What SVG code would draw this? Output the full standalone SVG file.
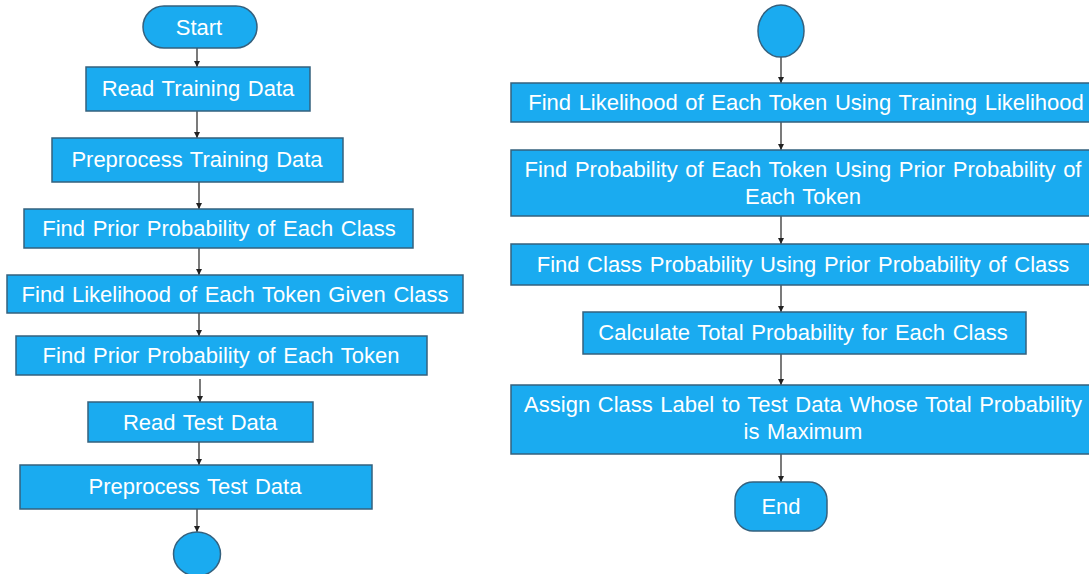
<svg xmlns="http://www.w3.org/2000/svg" width="1089" height="574" viewBox="0 0 1089 574">
<style>
.box{fill:#1aabf0;stroke:#35617e;stroke-width:1.5}
.t{font-family:"Liberation Sans",Arial,sans-serif;font-size:22px;word-spacing:1.5px;fill:#ffffff;text-anchor:middle}
.c{stroke:#333333;stroke-width:1.3;fill:none;marker-end:url(#ah)}
</style>
<defs>
<marker id="ah" viewBox="0 0 10 10" refX="10" refY="5" markerWidth="6" markerHeight="6" markerUnits="userSpaceOnUse" orient="auto">
<path d="M0,0 L10,5 L0,10 z" fill="#222222"/>
</marker>
</defs>
<rect width="1089" height="574" fill="#ffffff"/>
<g id="connectors">
<line class="c" x1="197" y1="48" x2="197" y2="67"/>
<line class="c" x1="197" y1="111" x2="197" y2="138"/>
<line class="c" x1="199" y1="182" x2="199" y2="209"/>
<line class="c" x1="199" y1="248" x2="199" y2="275"/>
<line class="c" x1="199" y1="313" x2="199" y2="336"/>
<line class="c" x1="200" y1="379" x2="200" y2="402"/>
<line class="c" x1="199" y1="442" x2="199" y2="465"/>
<line class="c" x1="197" y1="509" x2="197" y2="532"/>
<line class="c" x1="781" y1="57" x2="781" y2="83"/>
<line class="c" x1="781" y1="122" x2="781" y2="150"/>
<line class="c" x1="781" y1="216" x2="781" y2="244"/>
<line class="c" x1="781" y1="285" x2="781" y2="312"/>
<line class="c" x1="781" y1="354" x2="781" y2="385"/>
<line class="c" x1="781" y1="454" x2="781" y2="482"/>
</g>
<g id="start">
<rect class="box" x="143" y="6" width="114" height="42" rx="21" ry="21"/>
<text class="t" x="199" y="35">Start</text>
</g>
<g id="read-training">
<rect class="box" x="86" y="67" width="224" height="44"/>
<text class="t" x="198" y="96">Read Training Data</text>
</g>
<g id="preprocess-training">
<rect class="box" x="52" y="138" width="291" height="44"/>
<text class="t" x="197" y="167">Preprocess Training Data</text>
</g>
<g id="prior-class">
<rect class="box" x="24" y="209" width="389" height="39"/>
<text class="t" x="219" y="236">Find Prior Probability of Each Class</text>
</g>
<g id="likelihood-token">
<rect class="box" x="7" y="275" width="456" height="38"/>
<text class="t" x="235" y="302">Find Likelihood of Each Token Given Class</text>
</g>
<g id="prior-token">
<rect class="box" x="16" y="336" width="411" height="39"/>
<text class="t" x="221" y="363">Find Prior Probability of Each Token</text>
</g>
<g id="read-test">
<rect class="box" x="88" y="402" width="225" height="40"/>
<text class="t" x="200" y="430">Read Test Data</text>
</g>
<g id="preprocess-test">
<rect class="box" x="20" y="465" width="352" height="44"/>
<text class="t" x="195" y="494">Preprocess Test Data</text>
</g>
<g id="connector-out">
<ellipse class="box" cx="197" cy="554" rx="23.5" ry="22"/>
</g>
<g id="connector-in">
<ellipse class="box" cx="781" cy="31" rx="23" ry="26"/>
</g>
<g id="likelihood-training">
<rect class="box" x="511" y="83" width="585" height="39"/>
<text class="t" x="806" y="110">Find Likelihood of Each Token Using Training Likelihood</text>
</g>
<g id="probability-token">
<rect class="box" x="511" y="150" width="585" height="66"/>
<text class="t" x="803" y="177">Find Probability of Each Token Using Prior Probability of</text>
<text class="t" x="803" y="204">Each Token</text>
</g>
<g id="class-probability">
<rect class="box" x="511" y="244" width="585" height="41"/>
<text class="t" x="803" y="272">Find Class Probability Using Prior Probability of Class</text>
</g>
<g id="total-probability">
<rect class="box" x="583" y="312" width="443" height="42"/>
<text class="t" x="803" y="340">Calculate Total Probability for Each Class</text>
</g>
<g id="assign-label">
<rect class="box" x="511" y="385" width="585" height="69"/>
<text class="t" x="803" y="412">Assign Class Label to Test Data Whose Total Probability</text>
<text class="t" x="803" y="439">is Maximum</text>
</g>
<g id="end">
<rect class="box" x="735" y="482" width="92" height="49" rx="18" ry="18"/>
<text class="t" x="781" y="514">End</text>
</g>
</svg>
